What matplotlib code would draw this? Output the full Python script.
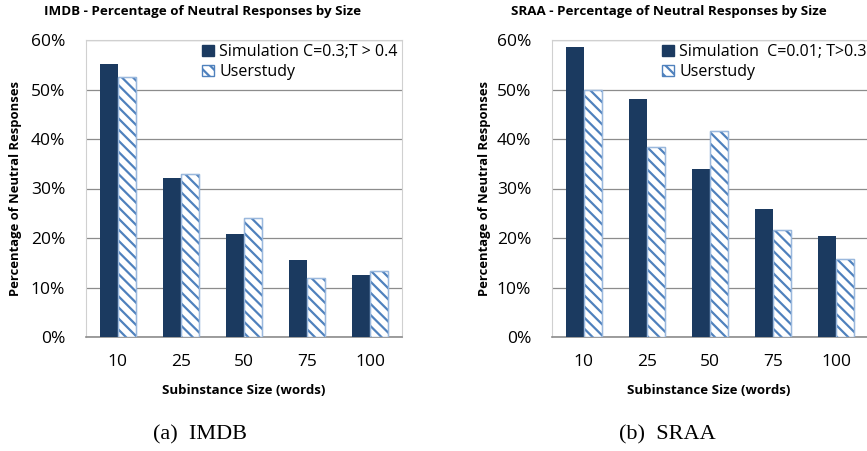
import matplotlib
matplotlib.use("Agg")
import matplotlib.pyplot as plt
import numpy as np
from matplotlib.patches import Patch

plt.rcParams['font.family'] = ['Open Sans', 'DejaVu Sans']
plt.rcParams['hatch.linewidth'] = 1.6

sizes = ['10', '25', '50', '75', '100']
imdb_sim = [55.1, 32.1, 20.8, 15.6, 12.5]
imdb_user = [52.5, 33.0, 24.0, 11.9, 13.3]
sraa_sim = [58.6, 48.1, 34.0, 25.8, 20.5]
sraa_user = [50.0, 38.4, 41.7, 21.6, 15.8]

navy = '#1b3a60'
stripe = '#4f81bd'
W, H = 867, 451

fig = plt.figure(figsize=(W / 100, H / 100), dpi=100)


def px(x0, y0, x1, y1):
    return [x0 / W, 1 - y1 / H, (x1 - x0) / W, (y1 - y0) / H]


def panel(rect, sim, user, title, tx, sim_label, ylx, xlx, cap, capx, legx):
    ax = fig.add_axes(rect)
    x = np.arange(len(sizes))
    w = 0.285
    ax.bar(x - w / 2, sim, w, color=navy, zorder=3)
    plt.rcParams['hatch.color'] = stripe
    ax.bar(x + w / 2, user, w, facecolor='white', edgecolor=stripe,
           hatch='\\\\\\', linewidth=0.8, zorder=3)
    ax.bar(x + w / 2, user, w, facecolor='none', edgecolor='#9ab8dd',
           linewidth=1.0, zorder=4)
    ax.set_xlim(-0.5, 4.5)
    ax.set_ylim(0, 60)
    ax.set_yticks(range(0, 61, 10))
    ax.set_yticklabels([f'{v}%' for v in range(0, 61, 10)], fontsize=12.5)
    ax.set_xticks(x)
    ax.set_xticklabels(sizes, fontsize=12.5)
    ax.tick_params(length=0)
    ax.tick_params(axis='y', pad=15)
    ax.tick_params(axis='x', pad=12)
    ax.grid(axis='y', color='#8c8c8c', linewidth=0.9, zorder=0)
    for s in ['top', 'right', 'left']:
        ax.spines[s].set_color('#d0d0d0')
    ax.spines['bottom'].set_color('#8c8c8c')
    ax.spines['bottom'].set_linewidth(1.2)

    fig.text(tx / W, 1 - 12 / H, title, ha='center', va='center',
             fontsize=9.6, fontweight='bold')
    fig.text(ylx / W, 1 - 188 / H, 'Percentage of Neutral Responses',
             rotation=90, ha='center', va='center', fontsize=9.4,
             fontweight='bold')
    fig.text(xlx / W, 1 - 391 / H, 'Subinstance Size (words)', ha='center',
             va='center', fontsize=9.5, fontweight='bold')
    fig.text(capx / W, 1 - 435 / H, cap, ha='center', va='center',
             fontsize=16, family='Liberation Serif')

    handles = [Patch(facecolor=navy, edgecolor=navy),
               Patch(facecolor='white', edgecolor=stripe, hatch='\\\\\\')]
    fig.legend(handles, [sim_label, 'Userstudy'], loc='upper left',
               bbox_to_anchor=(legx / W, 1 - 44 / H), frameon=False,
               fontsize=11.5, handlelength=0.72, handleheight=0.72,
               handletextpad=0.35, labelspacing=0.25, borderpad=0,
               borderaxespad=0)
    return ax


panel(px(86, 40, 402, 337), imdb_sim, imdb_user,
      'IMDB - Percentage of Neutral Responses by Size', 203,
      'Simulation C=0.3;T > 0.4', 16, 244, '(a)  IMDB', 200, 202)
panel(px(552, 40, 868, 337), sraa_sim, sraa_user,
      'SRAA - Percentage of Neutral Responses by Size', 669,
      'Simulation  C=0.01; T>0.3', 484, 709, '(b)  SRAA', 667, 662)

fig.savefig('out.png', dpi=100)
